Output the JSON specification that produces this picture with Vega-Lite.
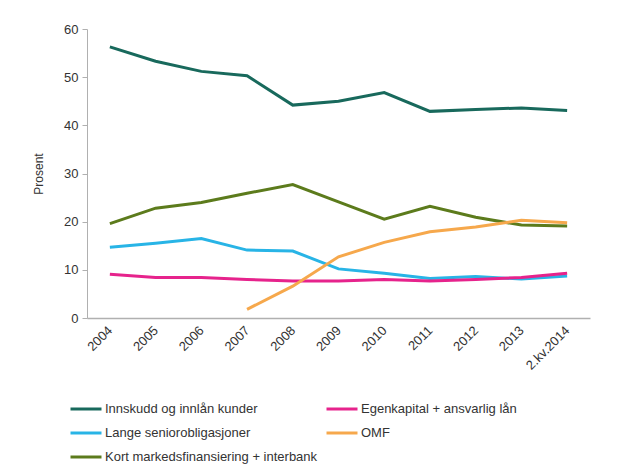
{
  "$schema": "https://vega.github.io/schema/vega-lite/v6.json",
  "autosize": "none",
  "width": 503,
  "height": 289,
  "padding": {"left": 87, "top": 29, "right": 51, "bottom": 149},
  "background": "white",
  "config": {
    "view": {"stroke": null},
    "font": "Liberation Sans",
    "axis": {"labelFont": "Liberation Sans", "titleFont": "Liberation Sans", "labelColor": "#333333", "titleColor": "#333333", "domainColor": "#b0b0b0", "tickColor": "#b0b0b0", "grid": false}
  },
  "data": {
    "values": [
      {"year": "2004", "series": "Innskudd og innlån kunder", "value": 56.3},
      {"year": "2005", "series": "Innskudd og innlån kunder", "value": 53.3},
      {"year": "2006", "series": "Innskudd og innlån kunder", "value": 51.2},
      {"year": "2007", "series": "Innskudd og innlån kunder", "value": 50.3},
      {"year": "2008", "series": "Innskudd og innlån kunder", "value": 44.2},
      {"year": "2009", "series": "Innskudd og innlån kunder", "value": 45.0},
      {"year": "2010", "series": "Innskudd og innlån kunder", "value": 46.8},
      {"year": "2011", "series": "Innskudd og innlån kunder", "value": 42.9},
      {"year": "2012", "series": "Innskudd og innlån kunder", "value": 43.3},
      {"year": "2013", "series": "Innskudd og innlån kunder", "value": 43.6},
      {"year": "2.kv.2014", "series": "Innskudd og innlån kunder", "value": 43.1},
      {"year": "2004", "series": "Kort markedsfinansiering + interbank", "value": 19.6},
      {"year": "2005", "series": "Kort markedsfinansiering + interbank", "value": 22.8},
      {"year": "2006", "series": "Kort markedsfinansiering + interbank", "value": 24.0},
      {"year": "2007", "series": "Kort markedsfinansiering + interbank", "value": 25.9},
      {"year": "2008", "series": "Kort markedsfinansiering + interbank", "value": 27.7},
      {"year": "2009", "series": "Kort markedsfinansiering + interbank", "value": 24.1},
      {"year": "2010", "series": "Kort markedsfinansiering + interbank", "value": 20.5},
      {"year": "2011", "series": "Kort markedsfinansiering + interbank", "value": 23.2},
      {"year": "2012", "series": "Kort markedsfinansiering + interbank", "value": 20.9},
      {"year": "2013", "series": "Kort markedsfinansiering + interbank", "value": 19.3},
      {"year": "2.kv.2014", "series": "Kort markedsfinansiering + interbank", "value": 19.1},
      {"year": "2004", "series": "Lange seniorobligasjoner", "value": 14.7},
      {"year": "2005", "series": "Lange seniorobligasjoner", "value": 15.5},
      {"year": "2006", "series": "Lange seniorobligasjoner", "value": 16.5},
      {"year": "2007", "series": "Lange seniorobligasjoner", "value": 14.1},
      {"year": "2008", "series": "Lange seniorobligasjoner", "value": 13.9},
      {"year": "2009", "series": "Lange seniorobligasjoner", "value": 10.2},
      {"year": "2010", "series": "Lange seniorobligasjoner", "value": 9.3},
      {"year": "2011", "series": "Lange seniorobligasjoner", "value": 8.2},
      {"year": "2012", "series": "Lange seniorobligasjoner", "value": 8.6},
      {"year": "2013", "series": "Lange seniorobligasjoner", "value": 8.1},
      {"year": "2.kv.2014", "series": "Lange seniorobligasjoner", "value": 8.7},
      {"year": "2004", "series": "Egenkapital + ansvarlig lån", "value": 9.1},
      {"year": "2005", "series": "Egenkapital + ansvarlig lån", "value": 8.4},
      {"year": "2006", "series": "Egenkapital + ansvarlig lån", "value": 8.4},
      {"year": "2007", "series": "Egenkapital + ansvarlig lån", "value": 8.0},
      {"year": "2008", "series": "Egenkapital + ansvarlig lån", "value": 7.7},
      {"year": "2009", "series": "Egenkapital + ansvarlig lån", "value": 7.7},
      {"year": "2010", "series": "Egenkapital + ansvarlig lån", "value": 8.0},
      {"year": "2011", "series": "Egenkapital + ansvarlig lån", "value": 7.7},
      {"year": "2012", "series": "Egenkapital + ansvarlig lån", "value": 8.0},
      {"year": "2013", "series": "Egenkapital + ansvarlig lån", "value": 8.4},
      {"year": "2.kv.2014", "series": "Egenkapital + ansvarlig lån", "value": 9.3},
      {"year": "2007", "series": "OMF", "value": 1.8},
      {"year": "2008", "series": "OMF", "value": 6.6},
      {"year": "2009", "series": "OMF", "value": 12.7},
      {"year": "2010", "series": "OMF", "value": 15.7},
      {"year": "2011", "series": "OMF", "value": 17.9},
      {"year": "2012", "series": "OMF", "value": 18.9},
      {"year": "2013", "series": "OMF", "value": 20.3},
      {"year": "2.kv.2014", "series": "OMF", "value": 19.8}
    ]
  },
  "mark": {"type": "line", "strokeWidth": 3},
  "encoding": {
    "x": {
      "field": "year", "type": "ordinal",
      "sort": ["2004","2005","2006","2007","2008","2009","2010","2011","2012","2013","2.kv.2014"],
      "scale": {"type": "point", "padding": 0.5},
      "axis": {"title": null, "labelAngle": -45, "labelAlign": "right", "labelBaseline": "middle", "ticks": false, "labelPadding": 10, "labelFontSize": 13, "domainWidth": 1.5}
    },
    "y": {
      "field": "value", "type": "quantitative",
      "scale": {"domain": [0, 60]},
      "axis": {"title": "Prosent", "values": [0,10,20,30,40,50,60], "tickSize": 5, "labelFontSize": 13, "titleFontSize": 12, "titleFontWeight": "normal", "titlePadding": 18, "labelPadding": 4}
    },
    "color": {
      "field": "series", "type": "nominal",
      "scale": {
        "domain": ["Innskudd og innlån kunder", "Lange seniorobligasjoner", "Kort markedsfinansiering + interbank", "Egenkapital + ansvarlig lån", "OMF"],
        "range": ["#18695c", "#28b4e6", "#5c7b1c", "#e6238c", "#f6a84c"]
      },
      "legend": {
        "title": null, "orient": "none", "legendX": -18, "legendY": 363,
        "columns": 2, "direction": "vertical", "columnPadding": 2, "rowPadding": -9,
        "symbolType": "stroke", "symbolSize": 961, "symbolStrokeWidth": 3,
        "labelFontSize": 13, "labelColor": "#333333", "labelOffset": 2, "labelLimit": 300
      }
    }
  }
}
